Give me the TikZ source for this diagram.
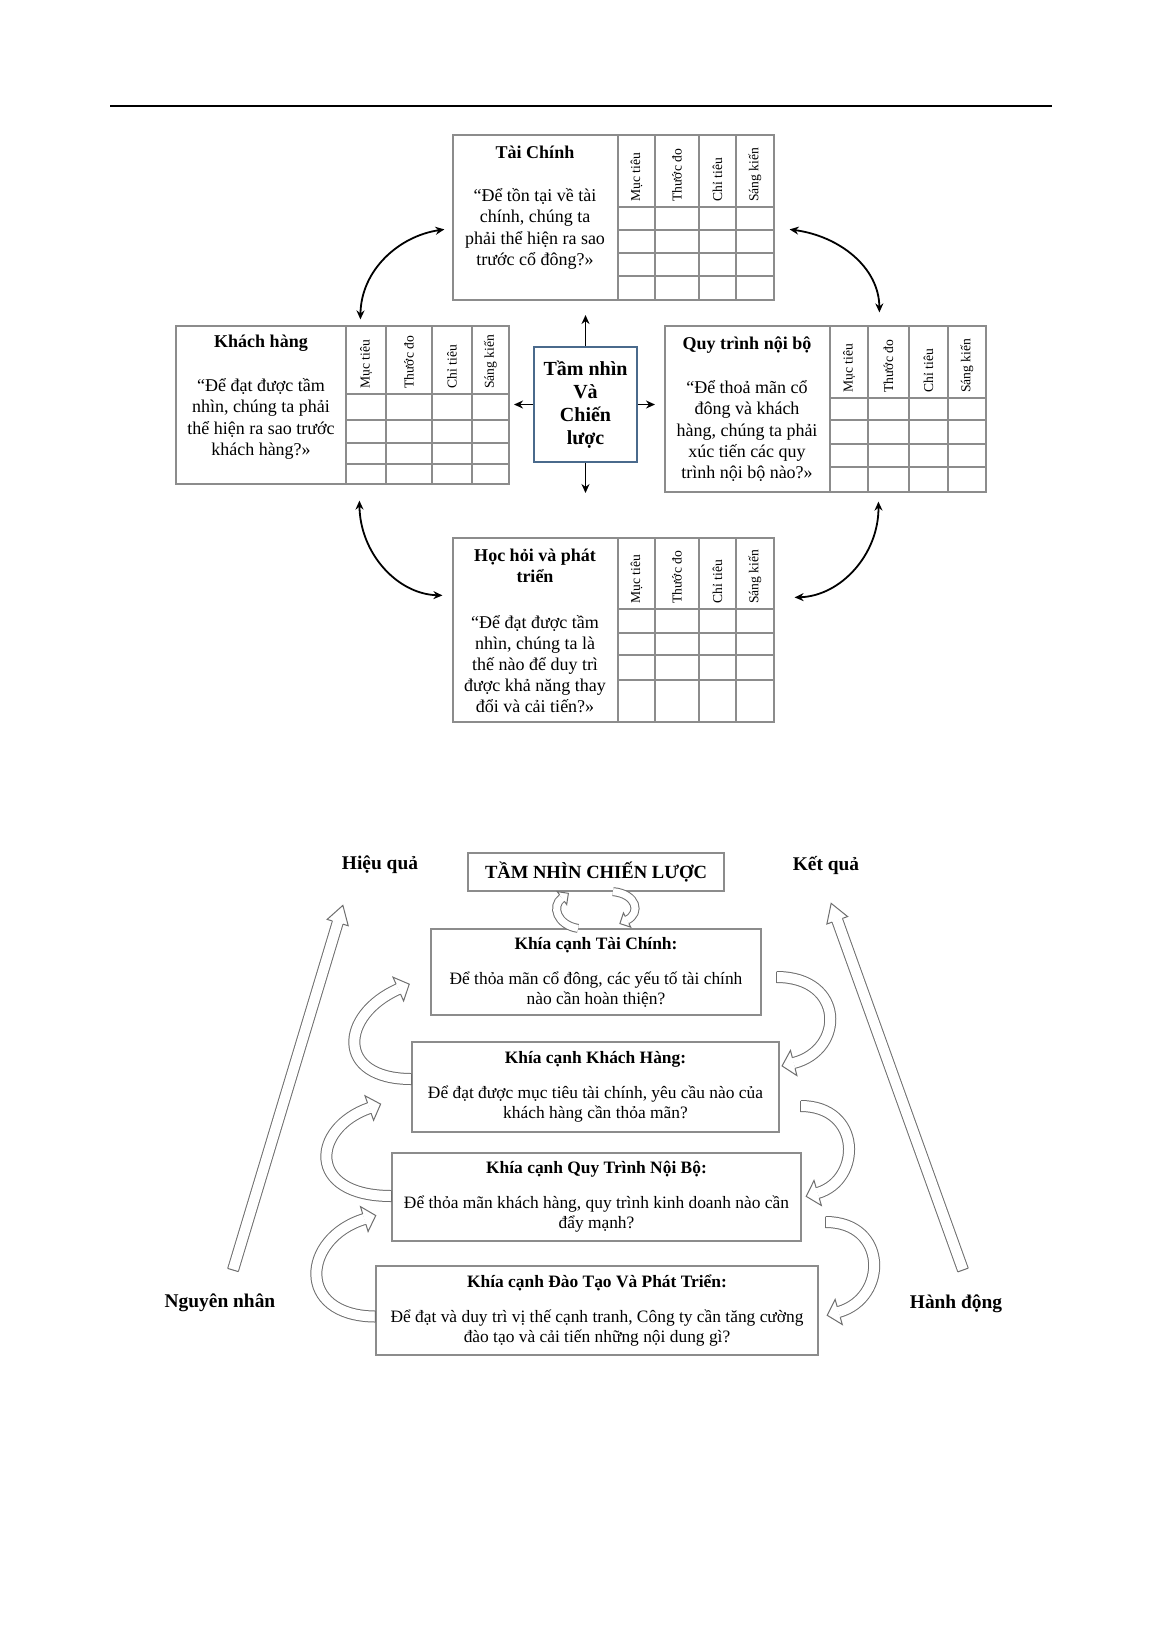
\documentclass[tikz,border=0pt]{standalone}
\usepackage{fontspec}
\setmainfont{Liberation Serif}
\usetikzlibrary{arrows.meta,positioning,fit,calc,decorations.markings}
\tikzset{>=Stealth}
\definecolor{gridgray}{HTML}{8C8C8C}
\definecolor{bandgray}{HTML}{6E6E6E}
\definecolor{visionblue}{HTML}{4A6A8C}

\begin{document}
\begin{tikzpicture}[
    x=0.5pt, y=-0.5pt,
    >={Stealth[length=4.5pt,width=4pt]},
    tblframe/.style={draw=gridgray, line width=0.6pt, inner sep=0pt},
    tblline/.style={draw=gridgray, line width=0.6pt},
    colhead/.style={rotate=90, anchor=west, inner sep=0pt, font=\fontsize{6.8}{8}\selectfont},
    tbltitle/.style={align=center, inner sep=0pt, font=\fontsize{9}{10.8}\selectfont\bfseries},
    tbltext/.style={align=center, inner sep=0pt, font=\fontsize{9}{10.6}\selectfont},
    vision/.style={draw=visionblue, line width=0.8pt, fill=white, align=center, minimum width=51.5pt, minimum height=57.5pt, inner sep=0pt, font=\fontsize{10}{11.6}\selectfont\bfseries},
    visionbar/.style={draw=gridgray, line width=0.6pt, minimum width=128pt, minimum height=19pt, inner sep=0pt, font=\fontsize{9.3}{11}\selectfont\bfseries},
    persp/.style={draw=gridgray, line width=0.6pt, align=center, inner sep=0pt, font=\fontsize{8.7}{10}\selectfont},
    vlabel/.style={inner sep=0pt, font=\fontsize{9.7}{11}\selectfont\bfseries},
    link/.style={line width=0.9pt},
    bandarrow/.style 2 args={draw=white, line width=5pt,
      preaction={draw=bandgray, line width=6pt},
      postaction={decorate},
      decoration={markings,
        mark=at position 0 with {\draw[line width=0.5pt, draw=bandgray] (0pt,-2.75pt) -- (0pt,2.75pt);},
        mark=at position 0.999 with {\draw[line width=0.5pt, draw=bandgray, fill=white, line join=miter]
          (0pt,2.75pt) -- (0pt,#1) -- (#2,0pt) -- (0pt,-#1) -- (0pt,-2.75pt);}}},
    smallband/.style={draw=white, line width=3.5pt,
      preaction={draw=bandgray, line width=4.5pt},
      postaction={decorate},
      decoration={markings,
        mark=at position 0.999 with {\draw[line width=0.5pt, draw=bandgray, fill=white, line join=miter]
          (0pt,2pt) -- (0pt,4pt) -- (4pt,0pt) -- (0pt,-4pt) -- (0pt,-2pt);}}}
  ]
  \fill[white] (0,0) rectangle (1163,1645);
  \useasboundingbox (0,0) rectangle (1163,1645);

  % page rule
  \draw[line width=1.4pt] (110,106) -- (1052,106);

  % balanced scorecard tables
  \foreach \nm/\xa/\ya/\xb/\yb/\xd/\ca/\cb/\cc/\yh/\ra/\rb/\rc in {tc/453/135/774/300/618/655/699/736/207/230/253/276,
      kh/176/326/509/484/346/386/432/472/394/420/443/464,
      qt/665/326/986/492/830/868/909/948/398/420/444/467,
      hh/453/538/774/722/618/655/699/736/609/633/655/680}{
    \node[tblframe, fit={(\xa,\ya) (\xb,\yb)}] (\nm) {};
    \foreach \cx in {\xd,\ca,\cb,\cc}
      \draw[tblline] (\cx,\ya) -- (\cx,\yb);
    \foreach \ry in {\yh,\ra,\rb,\rc}
      \draw[tblline] (\xd,\ry) -- (\xb,\ry);
    \foreach \l/\r/\lbl [count=\i] in {\xd/\ca/Mục tiêu, \ca/\cb/Thước đo, \cb/\cc/Chỉ tiêu, \cc/\xb/Sáng kiến}
      \node[colhead] (\nm-c\i) at ({(\l+\r)/2}, \yh-5) {\lbl};
  }

  \node[tbltitle] (tc-title) at (535,152) {Tài Chính};
  \node[tbltext] (tc-text) at (535,229) {“Để tồn tại về tài\\chính, chúng ta\\phải thể hiện ra sao\\trước cổ đông?»};
  \node[tbltitle] (kh-title) at (261,343) {Khách hàng};
  \node[tbltext] (kh-text) at (261,419) {“Để đạt được tầm\\nhìn, chúng ta phải\\thể hiện ra sao trước\\khách hàng?»};
  \node[tbltitle] (qt-title) at (747,345) {Quy trình nội bộ};
  \node[tbltext] (qt-text) at (747,431) {“Để thoả mãn cổ\\đông và khách\\hàng, chúng ta phải\\xúc tiến các quy\\trình nội bộ nào?»};
  \node[tbltitle] (hh-title) at (535,566) {Học hỏi và phát\\triển};
  \node[tbltext] (hh-text) at (535,664) {“Để đạt được tầm\\nhìn, chúng ta là\\thế nào để duy trì\\được khả năng thay\\đổi và cải tiến?»};

  % vision in the middle
  \node[vision] (tn) at (585.5,404.5) {Tầm nhìn\\Và\\Chiến\\lược};
  \coordinate (tnN) at (585.5,315);
  \coordinate (tnS) at (585.5,493);
  \coordinate (tnW) at (514,404.5);
  \coordinate (tnE) at (655,404.5);
  \draw[link, ->] (tn.north) -- (tnN);
  \draw[link, ->] (tn.south) -- (tnS);
  \draw[link, ->] (tn.west) -- (tnW);
  \draw[link, ->] (tn.east) -- (tnE);

  \draw[link, <->] ($(kh.north west)+(185,-6)$) .. controls (361,270) and (399,236) .. ($(tc.north west)+(-8,95)$);
  \draw[link, <->] ($(tc.north east)+(15,95)$) .. controls (839,236) and (879,267) .. ($(qt.north west)+(215,-13)$);
  \draw[link, <->] ($(kh.south west)+(184,16)$) .. controls (360,553) and (397,594) .. ($(hh.north west)+(-10,58)$);
  \draw[link, <->] ($(qt.south west)+(214,9)$) .. controls (879,554) and (841,596) .. ($(hh.north east)+(20,60)$);

  % strategy map
  \node[vlabel] (effect) at (380,865) {Hiệu quả};
  \node[vlabel] (result) at (826,865) {Kết quả};
  \node[vlabel] (cause) at (220,1303) {Nguyên nhân};
  \node[vlabel] (action) at (956,1304) {Hành động};

  \node[visionbar] (tnc) at (596,872) {TẦM NHÌN CHIẾN LƯỢC};
  \node[persp, minimum width=165pt, minimum height=43pt] (ktc) at (596,972)
    {\textbf{Khía cạnh Tài Chính:}\\[7.5pt]Để thỏa mãn cổ đông, các yếu tố tài chính\\nào cần hoàn thiện?};
  \node[persp, minimum width=183.5pt, minimum height=45pt] (kkh) at (595.5,1087)
    {\textbf{Khía cạnh Khách Hàng:}\\[7.5pt]Để đạt được mục tiêu tài chính, yêu cầu nào của\\khách hàng cần thỏa mãn?};
  \node[persp, minimum width=204.5pt, minimum height=44pt] (kqt) at (596.5,1197)
    {\textbf{Khía cạnh Quy Trình Nội Bộ:}\\[7.5pt]Để thỏa mãn khách hàng, quy trình kinh doanh nào cần\\đẩy mạnh?};
  \node[persp, minimum width=221pt, minimum height=44.5pt] (kdt) at (597,1310.5)
    {\textbf{Khía cạnh Đào Tạo Và Phát Triển:}\\[7.5pt]Để đạt và duy trì vị thế cạnh tranh, Công ty cần tăng cường\\đào tạo và cải tiến những nội dung gì?};

  % long outline arrows
  \coordinate (causeBase) at (233,1270);
  \coordinate (effectHead) at (337.8,922.2);
  \coordinate (actionBase) at (963,1270);
  \coordinate (resultHead) at (837.1,919.9);
  \draw[bandarrow={5.5pt}{9pt}] (causeBase) -- (effectHead);
  \draw[bandarrow={5.5pt}{9pt}] (actionBase) -- (resultHead);

  % exchange with the vision
  \draw[smallband] ($(ktc.north)+(-18,0)$) .. controls (557,925) and (551,906) .. (562,898);
  \draw[smallband] ($(tnc.south)+(17,0)$) .. controls (637,894) and (641,913) .. (627,920);

  % curved arrows on the left
  \draw[bandarrow={6.5pt}{6pt}] ($(kkh.west)+(0,-8)$) .. controls (335,1079) and (340,1015) .. ($(ktc.west)+(-32,17)$);
  \draw[bandarrow={6.5pt}{6pt}] ($(kqt.west)+(0,-1)$) .. controls (305,1196) and (312,1128) .. ($(kkh.west)+(-42,21)$);
  \draw[bandarrow={6.5pt}{6pt}] ($(kdt.west)+(0,6)$) .. controls (295,1316) and (302,1238) .. ($(kqt.west)+(-27,22)$);

  % curved arrows on the right
  \draw[bandarrow={6.5pt}{6pt}] ($(ktc.east)+(15,5)$) .. controls (845,977) and (845,1050) .. ($(kkh.east)+(14,-24)$);
  \draw[bandarrow={6.5pt}{6pt}] ($(kkh.east)+(21,19)$) .. controls (862,1106) and (862,1180) .. ($(kqt.east)+(16,-4)$);
  \draw[bandarrow={6.5pt}{6pt}] ($(kqt.east)+(24,25)$) .. controls (888,1222) and (888,1298) .. ($(kdt.east)+(20,1.5)$);
\end{tikzpicture}
\end{document}
